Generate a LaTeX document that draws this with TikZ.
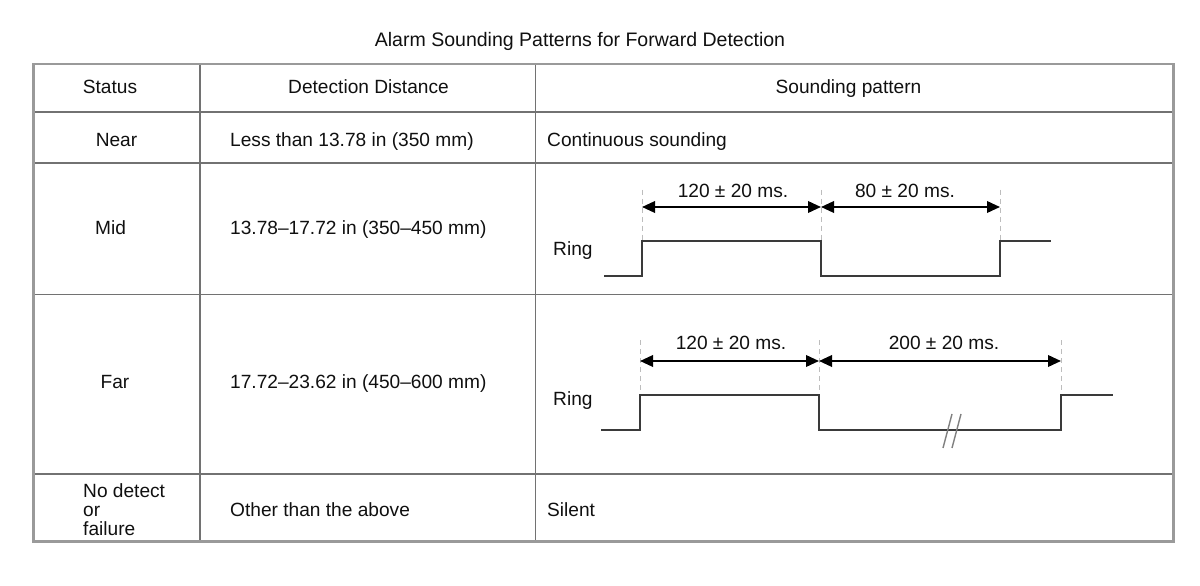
\documentclass[tikz,border=0pt]{standalone}
\usepackage{fontspec}
\setmainfont{Liberation Sans}
\usetikzlibrary{arrows.meta}
\definecolor{outerline}{HTML}{9A9A9A}
\definecolor{innerline}{HTML}{727272}
\definecolor{wave}{HTML}{3A3A3A}
\definecolor{guide}{HTML}{BDBDBD}
\definecolor{ink}{HTML}{101010}
\begin{document}
\begin{tikzpicture}[x=1bp,y=-1bp,
  txt/.style={font=\fontsize{19.2}{19.2}\selectfont, inner sep=0pt, text=ink},
  lt/.style={txt, anchor=base west},
  ct/.style={txt, anchor=base},
  outerrule/.style={draw=outerline, line width=2.4bp},
  innerrule/.style={draw=innerline, line width=1.6bp},
  waveline/.style={draw=wave, line width=2bp, line join=miter},
  guideline/.style={draw=guide, line width=1bp, dash pattern=on 5bp off 4bp},
  dimarrow/.style={draw=black, line width=2bp, {Triangle[length=13bp,width=11.5bp]}-{Triangle[length=13bp,width=11.5bp]}},
  breakmark/.style={draw=gray, line width=1.4bp}]
\useasboundingbox[fill=white] (0,0) rectangle (1200,586);

% title
\node[ct, font=\fontsize{19.6}{19.6}\selectfont] (title) at (580,47) {Alarm Sounding Patterns for Forward Detection};

% table rules
\draw[innerrule] (33.5,112) -- (1173.5,112);
\draw[innerrule] (33.5,163) -- (1173.5,163);
\draw[innerrule] (33.5,294.5) -- (1173.5,294.5);
\draw[innerrule] (33.5,474) -- (1173.5,474);
\draw[innerrule] (200,64) -- (200,541.5);
\draw[innerrule] (535.5,64) -- (535.5,541.5);
\draw[outerrule] (33.5,64) rectangle (1173.5,541.5);

% header
\node[ct] (hstatus) at (110,93.3) {Status};
\node[ct] (hdist) at (368.5,93.3) {Detection Distance};
\node[ct] (hpat) at (848.5,93.3) {Sounding pattern};

% Near
\node[ct] (snear) at (116.5,146.7) {Near};
\node[lt] (dnear) at (230,146.7) {Less than 13.78 in (350 mm)};
\node[lt] (pnear) at (547,146.7) {Continuous sounding};

% Mid
\node[ct] (smid) at (110.5,235) {Mid};
\node[lt] (dmid) at (230,235) {13.78–17.72 in (350–450 mm)};
\node[lt] (rmid) at (553,255.5) {Ring};

% Far
\node[ct] (sfar) at (115,388.3) {Far};
\node[lt] (dfar) at (230,388.3) {17.72–23.62 in (450–600 mm)};
\node[lt] (rfar) at (553,405) {Ring};

% No detect
\node[lt] (snd1) at (83,497.3) {No detect};
\node[lt] (snd2) at (83,516) {or};
\node[lt] (snd3) at (83,535) {failure};
\node[lt] (dnd) at (230,516.6) {Other than the above};
\node[lt] (pnd) at (547,516.6) {Silent};

% ---- Mid waveform
\coordinate (m0) at (604,276.5);
\coordinate (m1) at (642,276.5);
\coordinate (m2) at (642,241);
\coordinate (m3) at (821,241);
\coordinate (m4) at (821,276.5);
\coordinate (m5) at (1000,276.5);
\coordinate (m6) at (1000,241);
\coordinate (m7) at (1051,241);
\draw[guideline] (642,190) -- (m2);
\draw[guideline] (821,190) -- (m3);
\draw[guideline] (1000,190) -- (m6);
\draw[waveline] (m0) -- (m1) -- (m2) -- (m3) -- (m4) -- (m5) -- (m6) -- (m7);
\coordinate (ma) at (642,207);
\coordinate (mb) at (821,207);
\coordinate (mc) at (1000,207);
\draw[dimarrow] (ma) -- (mb);
\draw[dimarrow] (mb) -- (mc);
\node[ct] (lm1) at (733,198) {120 ± 20 ms.};
\node[ct] (lm2) at (905,198) {80 ± 20 ms.};

% ---- Far waveform
\coordinate (f0) at (601,430);
\coordinate (f1) at (640,430);
\coordinate (f2) at (640,395);
\coordinate (f3) at (819,395);
\coordinate (f4) at (819,430);
\coordinate (f5) at (1061,430);
\coordinate (f6) at (1061,395);
\coordinate (f7) at (1113,395);
\draw[guideline] (640,340) -- (f2);
\draw[guideline] (819,340) -- (f3);
\draw[guideline] (1061,340) -- (f6);
\draw[waveline] (f0) -- (f1) -- (f2) -- (f3) -- (f4) -- (f5) -- (f6) -- (f7);
\draw[breakmark] (943,448) -- (952,414);
\draw[breakmark] (952,448) -- (961,414);
\coordinate (fa) at (640,361);
\coordinate (fb) at (819,361);
\coordinate (fc) at (1061,361);
\draw[dimarrow] (fa) -- (fb);
\draw[dimarrow] (fb) -- (fc);
\node[ct] (lf1) at (731,350) {120 ± 20 ms.};
\node[ct] (lf2) at (944,350) {200 ± 20 ms.};
\end{tikzpicture}
\end{document}
